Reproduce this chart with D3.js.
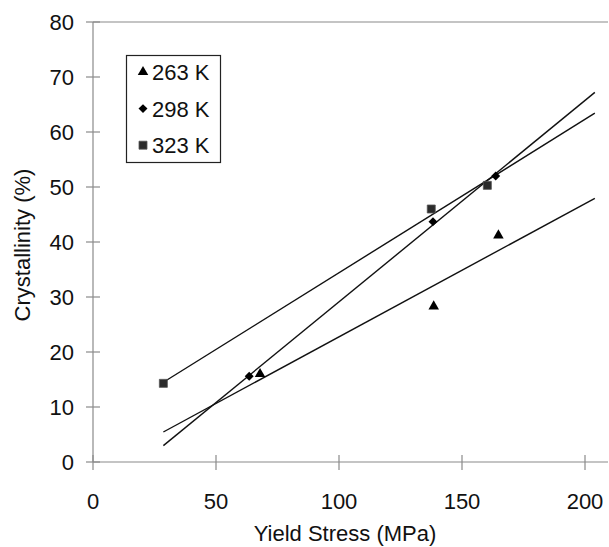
<!DOCTYPE html>
<html>
<head>
<meta charset="utf-8">
<script src="https://cdn.jsdelivr.net/npm/d3@7"></script>
<style>
  html, body { margin: 0; padding: 0; background: #fff; }
  svg { display: block; font-family: Arial, "Liberation Sans", Helvetica, sans-serif; }
</style>
</head>
<body>
<svg id="chart" width="609" height="547"></svg>
<script>
// Yield stress (MPa) vs crystallinity (%) at three temperatures
const seriesNames = ["263 K", "298 K", "323 K"];
const markerShapes = ["triangle", "diamond", "square"];

const stress263 = [67.9, 138.5, 164.8];
const cryst263  = [16.0, 28.3, 41.2];

const stress298 = [63.5, 138.2, 163.7];
const cryst298  = [15.6, 43.7, 52.0];

const stress323 = [28.6, 137.5, 160.3];
const cryst323  = [14.3, 46.0, 50.3];

const xTicks = [0, 50, 100, 150, 200];
const yTicks = [0, 10, 20, 30, 40, 50, 60, 70, 80];

// Linear trendlines are extended over this stress range
const trendFrom = 28.6;
const trendTo = 204;

const xValues = [stress263, stress298, stress323];
const yValues = [cryst263, cryst298, cryst323];

const series = seriesNames.map((name, i) => ({
  name,
  shape: markerShapes[i],
  points: xValues[i].map((x, j) => ({ x, y: yValues[i][j] }))
}));

function linearFit(pts) {
  const mx = d3.mean(pts, d => d.x), my = d3.mean(pts, d => d.y);
  const sxy = d3.sum(pts, d => (d.x - mx) * (d.y - my));
  const sxx = d3.sum(pts, d => (d.x - mx) * (d.x - mx));
  const slope = sxy / sxx;
  return x => my + slope * (x - mx);
}

const svg = d3.select("#chart");
const x0 = 93, x200 = 585, rightEdge = 608;
const x = d3.scaleLinear().domain([0, 200]).range([x0, x200]);
const y = d3.scaleLinear().domain([0, 80]).range([462, 22]);
const xEnd = x.invert(rightEdge);

const axisColor = "#8a8a8a";
const fontSize = 22;

// frame: left axis, bottom axis, top line
const g = svg.append("g");
g.append("line").attr("x1", x(0)).attr("x2", x(0)).attr("y1", y(0)).attr("y2", y(80))
  .attr("stroke", axisColor).attr("stroke-width", 1.2);
g.append("line").attr("x1", x(0)).attr("x2", x(xEnd)).attr("y1", y(0)).attr("y2", y(0))
  .attr("stroke", axisColor).attr("stroke-width", 1.2);
g.append("line").attr("x1", x(0)).attr("x2", x(xEnd)).attr("y1", y(80)).attr("y2", y(80))
  .attr("stroke", axisColor).attr("stroke-width", 1.2);

// y ticks cross the axis
const yAxis = g.append("g");
yTicks.forEach(t => {
  yAxis.append("line").attr("x1", x(0) - 7).attr("x2", x(0) + 7)
    .attr("y1", y(t)).attr("y2", y(t)).attr("stroke", axisColor).attr("stroke-width", 1.2);
  yAxis.append("text").attr("x", 74).attr("y", y(t)).attr("dy", "0.36em")
    .attr("text-anchor", "end").attr("font-size", fontSize).attr("fill", "#111").text(t);
});

// x ticks cross the axis
const xAxis = g.append("g");
xTicks.forEach(t => {
  xAxis.append("line").attr("x1", x(t)).attr("x2", x(t))
    .attr("y1", y(0) - 7).attr("y2", y(0) + 8).attr("stroke", axisColor).attr("stroke-width", 1.2);
  xAxis.append("text").attr("x", x(t)).attr("y", 509)
    .attr("text-anchor", "middle").attr("font-size", fontSize).attr("fill", "#111").text(t);
});

// axis titles
svg.append("text").attr("x", 345).attr("y", 541).attr("text-anchor", "middle")
  .attr("font-size", fontSize).attr("fill", "#111").text("Yield Stress (MPa)");
svg.append("text").attr("transform", "translate(30,245) rotate(-90)")
  .attr("text-anchor", "middle").attr("font-size", fontSize).attr("fill", "#111")
  .text("Crystallinity (%)");

// trendlines
const lineGen = d3.line().x(d => x(d[0])).y(d => y(d[1]));
series.forEach(s => {
  const f = linearFit(s.points);
  svg.append("path")
    .attr("d", lineGen([[trendFrom, f(trendFrom)], [trendTo, f(trendTo)]]))
    .attr("fill", "none").attr("stroke", "#111").attr("stroke-width", 1.4);
});

// marker symbols (diamond is a square turned 45 degrees)
const squareDiamond = {
  draw(ctx, size) {
    const r = Math.sqrt(size / 2);
    ctx.moveTo(0, -r); ctx.lineTo(r, 0); ctx.lineTo(0, r); ctx.lineTo(-r, 0); ctx.closePath();
  }
};
const symbolFor = {
  triangle: d3.symbol().type(d3.symbolTriangle).size(48),
  diamond: d3.symbol().type(squareDiamond).size(40),
  square: d3.symbol().type(d3.symbolSquare).size(64)
};
const fillFor = { triangle: "#000", diamond: "#000", square: "#2b2b2b" };

series.forEach(s => {
  svg.append("g").selectAll("path").data(s.points).join("path")
    .attr("transform", d => `translate(${x(d.x)},${y(d.y)})`)
    .attr("d", symbolFor[s.shape]())
    .attr("fill", fillFor[s.shape])
    .attr("stroke", s.shape === "square" ? "#555" : "none")
    .attr("stroke-width", 0.8);
});

// legend
const legend = svg.append("g");
legend.append("rect").attr("x", 126.5).attr("y", 55.5).attr("width", 94).attr("height", 107)
  .attr("fill", "#fff").attr("stroke", "#222").attr("stroke-width", 1.2);
series.forEach((s, i) => {
  const cy = 72 + i * 36.6;
  legend.append("path").attr("transform", `translate(143,${cy})`)
    .attr("d", symbolFor[s.shape]())
    .attr("fill", fillFor[s.shape])
    .attr("stroke", s.shape === "square" ? "#555" : "none").attr("stroke-width", 0.8);
  legend.append("text").attr("x", 152).attr("y", cy).attr("dy", "0.36em")
    .attr("font-size", fontSize).attr("fill", "#111").text(s.name);
});
</script>
</body>
</html>
